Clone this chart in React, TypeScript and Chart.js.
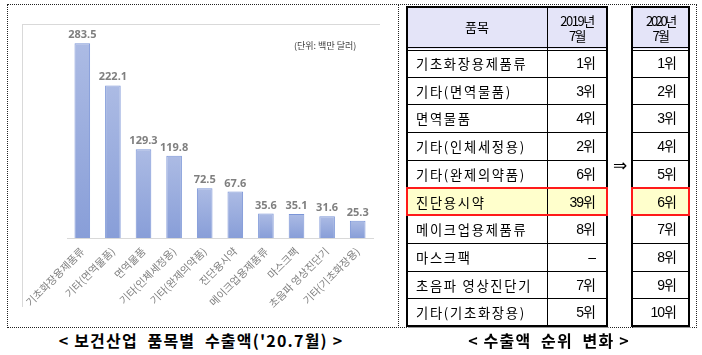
import React, { useEffect, useRef } from "react";
import { Chart, registerables } from "chart.js";

Chart.register(...registerables);

// ---- data ----
const categories = [
  "기초화장용제품류",
  "기타(면역물품)",
  "면역물품",
  "기타(인체세정용)",
  "기타(완제의약품)",
  "진단용시약",
  "메이크업용제품류",
  "마스크팩",
  "초음파 영상진단기",
  "기타(기초화장용)",
];
const exportValues = [283.5, 222.1, 129.3, 119.8, 72.5, 67.6, 35.6, 35.1, 31.6, 25.3];
const rank2019 = ["1위", "3위", "4위", "2위", "6위", "39위", "8위", "–", "7위", "5위"];
const rank2020 = ["1위", "2위", "3위", "4위", "5위", "6위", "7위", "8위", "9위", "10위"];
const highlightIndex = 5;
const unitLabel = "(단위: 백만 달러)";
const leftCaption = "< 보건산업  품목별  수출액('20.7월) >";
const rightCaption = "< 수출액  순위  변화 >";
const tableHeader = ["품목", "2019년", "7월", "2020년", "7월"];

const KR = '"Noto Sans CJK KR", "Noto Sans", sans-serif';
const NUM = '"Liberation Sans", "Noto Sans CJK KR", sans-serif';

const valueLabelPlugin = {
  id: "valueLabels",
  afterDatasetsDraw(chart: any) {
    const ctx = chart.ctx;
    const meta = chart.getDatasetMeta(0);
    ctx.save();
    ctx.font = 'bold 11px "Noto Sans", "Liberation Sans", sans-serif';
    ctx.fillStyle = "#7f7f7f";
    ctx.textAlign = "center";
    ctx.textBaseline = "alphabetic";
    meta.data.forEach((bar: any, i: number) => {
      ctx.fillText(exportValues[i].toFixed(1), bar.x, bar.y - 5);
    });
    ctx.restore();
  },
};

function BarChart() {
  const ref = useRef<HTMLCanvasElement | null>(null);
  useEffect(() => {
    const canvas = ref.current;
    if (!canvas) return;
    const chart = new Chart(canvas, {
      type: "bar",
      data: {
        labels: categories,
        datasets: [
          {
            data: exportValues,
            backgroundColor: (c: any) => {
              const ch = c.chart;
              const ys = ch.scales && ch.scales.y;
              if (!ys || c.parsed == null) return "#99acdd";
              const top = ys.getPixelForValue(c.parsed.y);
              const bottom = ys.getPixelForValue(0);
              if (!isFinite(top) || !isFinite(bottom) || top === bottom) return "#99acdd";
              const g = ch.ctx.createLinearGradient(0, top, 0, bottom);
              g.addColorStop(0, "#acbbe4");
              g.addColorStop(1, "#889ed8");
              return g;
            },
            borderColor: "#7b95d7",
            borderWidth: 1,
            barPercentage: 0.51,
            categoryPercentage: 1,
          },
        ],
      },
      options: {
        responsive: false,
        animation: false,
        devicePixelRatio: 1,
        layout: { padding: { left: 59, right: 23, top: 27, bottom: 0 } },
        plugins: { legend: { display: false }, tooltip: { enabled: false } },
        scales: {
          x: {
            grid: { display: false, drawTicks: false },
            border: { display: true, color: "#d9d9d9", width: 1 },
            ticks: {
              autoSkip: false,
              minRotation: 45,
              maxRotation: 45,
              padding: 7,
              color: "#7f7f7f",
              font: { family: KR, size: 10.5 },
            },
            afterFit: (s: any) => {
              s.paddingLeft = 0;
              s.paddingRight = 0;
              s.height = 89;
            },
          },
          y: { display: false, min: 0, max: 300 },
        },
      },
      plugins: [valueLabelPlugin],
    } as any);
    return () => chart.destroy();
  }, []);
  return (
    <canvas
      ref={ref}
      width={388}
      height={322}
      style={{ position: "absolute", left: 8, top: 5, width: 388, height: 322 }}
    />
  );
}

function Line({ x, y, w, h, color = "#000" }: any) {
  return <div style={{ position: "absolute", left: x, top: y, width: w, height: h, background: color }} />;
}

const TOP = 7;
const HEAD_BOTTOM = 49;
const ROW_H = 27.7;
const TABLE_BOTTOM = HEAD_BOTTOM + ROW_H * 10;

function cellText(extra: any) {
  return {
    position: "absolute",
    color: "#000",
    fontSize: 13,
    fontFamily: KR,
    whiteSpace: "pre",
    ...extra,
  } as any;
}

function Table1() {
  const L = 407, R = 607, D = 547;
  const els: any[] = [];
  els.push(<div key="hbg" style={{ position: "absolute", left: L, top: TOP, width: R - L, height: HEAD_BOTTOM - TOP, background: "#e4e4f8" }} />);
  els.push(
    <div key="hl" style={{ position: "absolute", left: L, top: HEAD_BOTTOM + ROW_H * highlightIndex, width: R - L, height: ROW_H, background: "#ffffcc" }} />
  );
  els.push(<Line key="d" x={D} y={TOP} w={1} h={TABLE_BOTTOM - TOP} />);
  els.push(<Line key="hb1" x={L} y={HEAD_BOTTOM - 2} w={R - L} h={1} />);
  els.push(<Line key="hb2" x={L} y={HEAD_BOTTOM + 1} w={R - L} h={1} />);
  for (let i = 1; i < 10; i++) {
    els.push(<Line key={"r" + i} x={L} y={Math.round(HEAD_BOTTOM + ROW_H * i)} w={R - L} h={1} />);
  }
  els.push(<Line key="ot" x={L} y={TOP - 1} w={R - L + 1} h={2} />);
  els.push(<Line key="ob" x={L} y={TABLE_BOTTOM - 1} w={R - L + 1} h={2} />);
  els.push(<Line key="obs" x={L + 1} y={TABLE_BOTTOM + 1} w={R - L + 1} h={1} color="#9a9a9a" />);
  els.push(<Line key="ol" x={L - 1} y={TOP - 1} w={2} h={TABLE_BOTTOM - TOP + 2} />);
  els.push(<Line key="or" x={R - 1} y={TOP - 1} w={2} h={TABLE_BOTTOM - TOP + 2} />);
  els.push(
    <div key="h1" style={cellText({ left: L, top: TOP, width: D - L, height: HEAD_BOTTOM - TOP - 2, lineHeight: `${HEAD_BOTTOM - TOP - 2}px`, textAlign: "center" })}>
      {tableHeader[0]}
    </div>
  );
  els.push(
    <div key="h2" style={cellText({ left: D, top: TOP + 6, width: R - D, textAlign: "center", lineHeight: "15px", letterSpacing: "-1.5px" })}>
      {tableHeader[1]}
      {"\n"}
      {tableHeader[2]}
    </div>
  );
  categories.forEach((c, i) => {
    const y = HEAD_BOTTOM + ROW_H * i;
    els.push(
      <div key={"n" + i} style={cellText({ left: L + 9, top: y + 1, height: ROW_H, lineHeight: `${ROW_H}px`, fontSize: 13.3, letterSpacing: "1.7px" })}>
        {c}
      </div>
    );
    els.push(
      <div key={"v" + i} style={cellText({ left: D, width: R - D - 12, top: y + 1, height: ROW_H, lineHeight: `${ROW_H}px`, textAlign: "right", fontFamily: NUM, fontSize: 14, letterSpacing: "-1px" })}>
        {rank2019[i]}
      </div>
    );
  });
  els.push(
    <div key="hf" style={{ position: "absolute", left: L - 1, top: HEAD_BOTTOM + ROW_H * highlightIndex - 1, width: R - L + 2, height: ROW_H + 2, border: "2px solid #ff1a1a", boxSizing: "border-box" }} />
  );
  return <>{els}</>;
}

function Table2() {
  const L = 632, R = 689;
  const els: any[] = [];
  els.push(<div key="hbg" style={{ position: "absolute", left: L, top: TOP, width: R - L, height: HEAD_BOTTOM - TOP, background: "#e4e4f8" }} />);
  els.push(
    <div key="hl" style={{ position: "absolute", left: L, top: HEAD_BOTTOM + ROW_H * highlightIndex, width: R - L, height: ROW_H, background: "#ffffcc" }} />
  );
  els.push(<Line key="hb1" x={L} y={HEAD_BOTTOM - 2} w={R - L} h={1} />);
  els.push(<Line key="hb2" x={L} y={HEAD_BOTTOM + 1} w={R - L} h={1} />);
  for (let i = 1; i < 10; i++) {
    els.push(<Line key={"r" + i} x={L} y={Math.round(HEAD_BOTTOM + ROW_H * i)} w={R - L} h={1} />);
  }
  els.push(<Line key="ot" x={L} y={TOP - 1} w={R - L + 1} h={2} />);
  els.push(<Line key="ob" x={L} y={TABLE_BOTTOM - 1} w={R - L + 1} h={2} />);
  els.push(<Line key="obs" x={L + 1} y={TABLE_BOTTOM + 1} w={R - L + 1} h={1} color="#9a9a9a" />);
  els.push(<Line key="ol" x={L - 1} y={TOP - 1} w={2} h={TABLE_BOTTOM - TOP + 2} />);
  els.push(<Line key="or" x={R - 1} y={TOP - 1} w={2} h={TABLE_BOTTOM - TOP + 2} />);
  els.push(
    <div key="h2" style={cellText({ left: L, top: TOP + 6, width: R - L, textAlign: "center", lineHeight: "15px", letterSpacing: "-2.4px" })}>
      {tableHeader[3]}
      {"\n"}
      <span style={{ letterSpacing: "-1.5px" }}>{tableHeader[4]}</span>
    </div>
  );
  rank2020.forEach((v, i) => {
    const y = HEAD_BOTTOM + ROW_H * i;
    els.push(
      <div key={"v" + i} style={cellText({ left: L, width: R - L - 13, top: y + 1, height: ROW_H, lineHeight: `${ROW_H}px`, textAlign: "right", fontFamily: NUM, fontSize: 14, letterSpacing: "-1px" })}>
        {v}
      </div>
    );
  });
  els.push(
    <div key="hf" style={{ position: "absolute", left: L - 1, top: HEAD_BOTTOM + ROW_H * highlightIndex - 1, width: R - L + 2, height: ROW_H + 2, border: "2px solid #ff1a1a", boxSizing: "border-box" }} />
  );
  return <>{els}</>;
}

export default function App() {
  return (
    <div style={{ position: "fixed", left: 0, top: 0, width: 702, height: 355, background: "#fff", overflow: "hidden" }}>
      <div style={{ position: "absolute", left: 7, top: 4, width: 690, height: 324, border: "1px dotted #222", boxSizing: "border-box" }} />
      <div style={{ position: "absolute", left: 398, top: 4, width: 0, height: 324, borderLeft: "1px dotted #222" }} />
      <Line x={22} y={24} w={358} h={1} color="#d9d9d9" />
      <Line x={22} y={24} w={1} h={283} color="#d9d9d9" />
      <BarChart />
      <div style={{ position: "absolute", left: 294, top: 39, fontSize: 9, fontFamily: KR, lineHeight: "13px", color: "#404040", whiteSpace: "pre" }}>{unitLabel}</div>
      <Table1 />
      <Table2 />
      <div style={{ position: "absolute", left: 608, top: 154, width: 24, textAlign: "center", fontSize: 17, lineHeight: "22px", fontFamily: '"DejaVu Sans", sans-serif', color: "#000" }}>⇒</div>
      <div style={{ position: "absolute", left: 0, width: 402, top: 330, textAlign: "center", fontSize: 16, fontWeight: "bold", fontFamily: KR, lineHeight: "20px", letterSpacing: "1.2px", whiteSpace: "pre", color: "#000" }}>{leftCaption}</div>
      <div style={{ position: "absolute", left: 398, width: 302, top: 330, textAlign: "center", fontSize: 16, fontWeight: "bold", fontFamily: KR, lineHeight: "20px", letterSpacing: "1.2px", whiteSpace: "pre", color: "#000" }}>{rightCaption}</div>
    </div>
  );
}
